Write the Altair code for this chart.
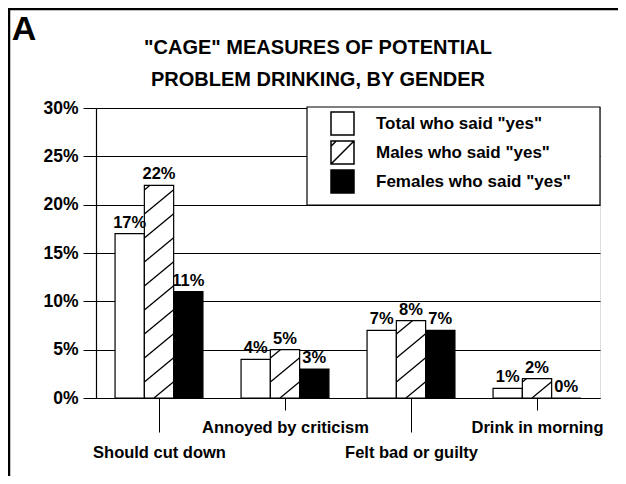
import json
import altair as alt
import pandas as pd

# ---------------- data ----------------
categories = ["Should cut down", "Annoyed by criticism", "Felt bad or guilty", "Drink in morning"]
series = ['Total who said "yes"', 'Males who said "yes"', 'Females who said "yes"']
total = [17, 4, 7, 1]
males = [22, 5, 8, 2]
females = [11, 3, 7, 0]
y_ticks = [0, 5, 10, 15, 20, 25, 30]
title_lines = ['"CAGE" MEASURES OF POTENTIAL', "PROBLEM DRINKING, BY GENDER"]
panel_letter = "A"

# ---------------- layout / style ----------------
FONT = "Liberation Sans"
W, H = 504, 290
X_UNIT = W / 4.0          # px per category unit
Y_UNIT = H / 30.0         # px per percent
BAR_W = 0.2325            # bar width in category units
offsets = [-BAR_W, 0.0, BAR_W]

rows = []
for si, (s, vals) in enumerate(zip(series, [total, males, females])):
    for ci, (c, v) in enumerate(zip(categories, vals)):
        center = ci + 1 + offsets[si]
        rows.append(dict(category=c, series=s, sidx=si, value=v, xc=center,
                         x0=center - BAR_W / 2, x1=center + BAR_W / 2, label=f"{v}%"))
df = pd.DataFrame(rows)

# hatch segments for the male bars (derived from the male values)
SPACING, SLOPE, PHASE = 24.0, 0.83, -8.0
wpx = BAR_W * X_UNIT
hatch = []
for ci, v in enumerate(males):
    left = ci + 1 - BAR_W / 2
    hpx = v * Y_UNIT
    for k in range(-2, 30):
        y0 = PHASE + k * SPACING
        y1 = y0 + SLOPE * wpx
        if y1 <= 0 or y0 >= hpx:
            continue
        xs, ys = ((-y0 / SLOPE, 0.0) if y0 < 0 else (0.0, y0))
        xe, ye = (((hpx - y0) / SLOPE, hpx) if y1 > hpx else (wpx, y1))
        hatch.append(dict(hx=left + xs / X_UNIT, hx2=left + xe / X_UNIT,
                          hy=ys / Y_UNIT, hy2=ye / Y_UNIT))
hdf = pd.DataFrame(hatch)

x_scale = alt.Scale(domain=[0.5, 4.5], nice=False, zero=False)
y_scale = alt.Scale(domain=[0, 30], nice=False)

odd = "datum.value % 2 == 1"
x_axis = alt.Axis(
    values=[1, 2, 3, 4], labelExpr=json.dumps(categories) + "[datum.value - 1]",
    title=None, grid=False,
    tickSize={"condition": {"test": odd, "value": 34}, "value": 12},
    labelPadding={"condition": {"test": odd, "value": 12}, "value": 9},
    tickColor="black", tickWidth=1,
    labelFont=FONT, labelFontSize=16.5, labelFontWeight="bold", labelColor="black",
    labelBaseline="top", labelAlign="center", labelOverlap=False, labelBound=False, labelFlush=False,
    domainColor="black", domainWidth=1.2,
)
y_axis = alt.Axis(
    values=y_ticks, labelExpr="datum.value + '%'", title=None,
    tickSize=13, tickColor="black", tickWidth=1, labelPadding=5,
    labelFont=FONT, labelFontSize=17.5, labelFontWeight="bold", labelColor="black",
    grid=True, gridColor="black", gridWidth=1, gridOpacity=1,
    domainColor="black", domainWidth=1.2,
)


def X(f):
    return alt.X(f, type="quantitative", scale=x_scale, axis=x_axis, title=None)


def Y(f):
    return alt.Y(f, type="quantitative", scale=y_scale, axis=y_axis, title=None)


one = alt.Data(values=[{}])

legend_box = alt.Chart(one).mark_rect(fill="white", stroke="black", strokeWidth=1.2).encode(
    x=alt.value(211), x2=alt.value(504), y=alt.value(-1), y2=alt.value(97))

bars = alt.Chart(df).mark_rect(stroke="black", strokeWidth=1.2).encode(
    x=X("x0"), x2="x1", y=Y("value"), y2=alt.datum(0),
    fill=alt.condition("datum.sidx == 2", alt.value("black"), alt.value("white")),
)

hatch_layer = alt.Chart(hdf).mark_rule(color="black", strokeWidth=1.3).encode(
    x=X("hx"), x2="hx2", y=Y("hy"), y2="hy2")

labels = alt.Chart(df).mark_text(font=FONT, fontSize=16.5, fontWeight="bold", color="black",
                                 baseline="bottom", dy=-3).encode(
    x=X("xc"), y=Y("value"), text="label:N")

sq = "M-1,-1H1V1H-1Z"
sq_diag = "M-1,-1H1V1H-1Z M-1,1L1,-1 M-1,-0.55L-0.55,-1"
legend = alt.Legend(title=None, orient="none", legendX=234, legendY=3, padding=0,
                    symbolSize=529, symbolStrokeWidth=1.5,
                    symbolOpacity=1, labelFont=FONT, labelFontSize=17, labelFontWeight="bold",
                    labelColor="black", labelOffset=21, rowPadding=0, labelLimit=400)
points = alt.Chart(df).mark_point(filled=False, opacity=0, strokeWidth=1.5).encode(
    x=X("xc"), y=Y("value"),
    fill=alt.Fill("series:N", scale=alt.Scale(domain=series, range=["white", "white", "black"]),
                  sort=series, legend=legend),
    stroke=alt.Stroke("series:N", scale=alt.Scale(domain=series, range=["black", "black", "black"]),
                      sort=series, legend=legend),
    shape=alt.Shape("series:N", scale=alt.Scale(domain=series, range=[sq, sq_diag, sq]),
                    sort=series, legend=legend),
)

title_text = alt.Chart(one).mark_text(text=title_lines, font=FONT, fontSize=20, fontWeight="bold",
                                      color="black", align="center", baseline="top",
                                      lineHeight=32).encode(
    x=alt.value(222), y=alt.value(-70))

letter = alt.Chart(one).mark_text(text=panel_letter, font=FONT, fontSize=34, fontWeight="bold",
                                  color="black", align="center", baseline="middle").encode(
    x=alt.value(-72), y=alt.value(-78))

border_left = alt.Chart(one).mark_rule(color="black", strokeWidth=2.5).encode(
    x=alt.value(-87), y=alt.value(-100), y2=alt.value(370))
border_top = alt.Chart(one).mark_rule(color="black", strokeWidth=2.5).encode(
    x=alt.value(-88), x2=alt.value(522), y=alt.value(-99))

chart = alt.layer(
    legend_box, bars, hatch_layer, labels, points, title_text, letter, border_left, border_top
).properties(
    width=W, height=H,
    padding={"left": 88, "top": 100, "right": 18, "bottom": 78},
    autosize=alt.AutoSizeParams(type="none"),
).configure_view(stroke=None).configure(background="white")

chart.save("out.html", embed_options={"renderer": "svg", "actions": False})
